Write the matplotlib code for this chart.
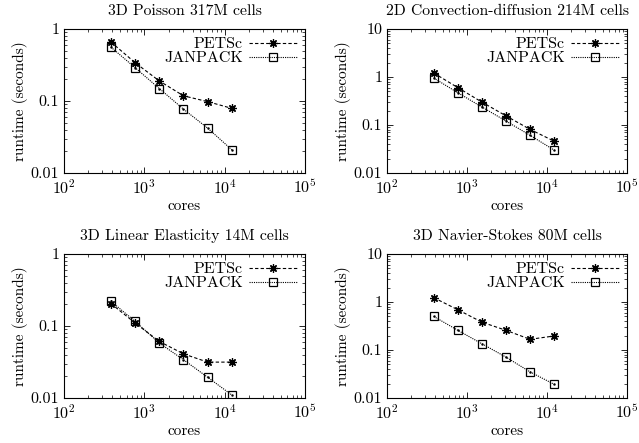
import numpy as np
import matplotlib
matplotlib.use('Agg')
import matplotlib.pyplot as plt
from matplotlib.ticker import LogLocator, FixedLocator, FixedFormatter, NullFormatter

plt.rcParams['font.family'] = 'cmr10'
plt.rcParams['mathtext.fontset'] = 'cm'
plt.rcParams['axes.formatter.use_mathtext'] = True

cores = [384, 768, 1536, 3072, 6144, 12288]

titles = ['3D Poisson 317M cells',
          '2D Convection-diffusion 214M cells',
          '3D Linear Elasticity 14M cells',
          '3D Navier-Stokes 80M cells']

petsc = [[0.66, 0.34, 0.19, 0.118, 0.098, 0.079],
         [1.21, 0.60, 0.30, 0.155, 0.081, 0.046],
         [0.205, 0.11, 0.061, 0.041, 0.0315, 0.0315],
         [1.23, 0.69, 0.38, 0.257, 0.167, 0.196]]

janpack = [[0.56, 0.29, 0.149, 0.077, 0.042, 0.021],
           [0.95, 0.47, 0.237, 0.121, 0.061, 0.030],
           [0.22, 0.116, 0.058, 0.034, 0.0194, 0.011],
           [0.50, 0.257, 0.135, 0.071, 0.035, 0.0193]]

ymax = [1, 10, 1, 10]

fig = plt.figure(figsize=(6.39, 4.43), dpi=100)
W, H = 639.0, 443.0
# axes boxes in pixels: left, top, right, bottom
boxes = [(64, 29, 305, 173), (387, 29, 627, 173),
         (64, 254, 305, 398), (387, 254, 627, 398)]

for i in range(4):
    l, t, r, b = boxes[i]
    ax = fig.add_axes([l/W, 1-b/H, (r-l)/W, (b-t)/H])
    ax.plot(cores, petsc[i], color='k', ls=(0, (3, 2)), lw=0.8,
            marker=(8, 2, 0), ms=6, mew=0.9, label='PETSc')
    ax.plot(cores, janpack[i], color='k', ls=(0, (1, 1)), lw=0.8,
            marker='s', ms=5.5, mfc='none', mew=0.9, label='JANPACK')
    ax.plot(cores, janpack[i], color='k', ls='none', marker='.', ms=1.5)
    ax.set_xscale('log')
    ax.set_yscale('log')
    ax.set_xlim(1e2, 1e5)
    ax.set_ylim(0.01, ymax[i])
    ax.xaxis.set_major_locator(FixedLocator([1e2, 1e3, 1e4, 1e5]))
    ax.xaxis.set_major_formatter(FixedFormatter([r'$10^2$', r'$10^3$', r'$10^4$', r'$10^5$']))
    if ymax[i] == 1:
        yt = [0.01, 0.1, 1]
        yl = ['0.01', '0.1', '1']
    else:
        yt = [0.01, 0.1, 1, 10]
        yl = ['0.01', '0.1', '1', '10']
    ax.yaxis.set_major_locator(FixedLocator(yt))
    ax.yaxis.set_major_formatter(FixedFormatter(yl))
    ax.xaxis.set_minor_locator(LogLocator(base=10, subs=np.arange(2, 10), numticks=20))
    ax.yaxis.set_minor_locator(LogLocator(base=10, subs=np.arange(2, 10), numticks=20))
    ax.xaxis.set_minor_formatter(NullFormatter())
    ax.yaxis.set_minor_formatter(NullFormatter())
    ax.tick_params(which='both', direction='in', top=True, right=True, labelsize=11.5)
    ax.tick_params(which='major', length=4, width=0.6)
    ax.tick_params(which='minor', length=2, width=0.5)
    for s in ax.spines.values():
        s.set_linewidth(0.8)
    ax.set_title(titles[i], fontsize=11.3, pad=10)
    ax.set_xlabel('cores', fontsize=11, labelpad=2)
    ax.set_ylabel('runtime (seconds)', fontsize=11, labelpad=2)
    ax.legend(loc='upper right', frameon=False, markerfirst=False, fontsize=11.5,
              handlelength=3.0, borderaxespad=0.1, labelspacing=0.0,
              handletextpad=0.4)

fig.savefig('out.png', dpi=100)
